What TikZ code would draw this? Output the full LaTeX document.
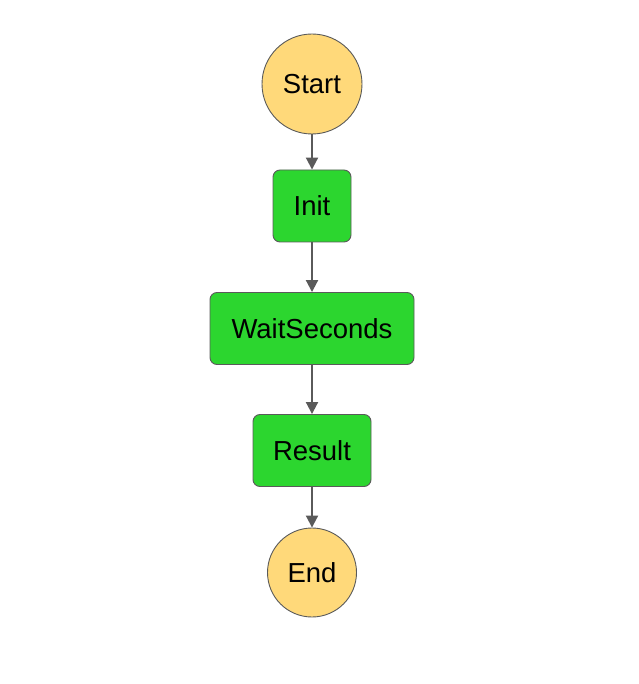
\documentclass[tikz,border=0pt]{standalone}
\usepackage{fontspec}
\setmainfont{Liberation Sans}
\usetikzlibrary{arrows.meta}
\definecolor{stateY}{HTML}{FFD97A}
\definecolor{stateG}{HTML}{2CD62F}
\definecolor{edgeC}{HTML}{5A5A5A}
\tikzset{
  term/.style={circle, draw=edgeC, line width=0.9pt, fill=stateY, inner sep=0pt, font=\fontsize{27.5}{32}\selectfont},
  task/.style={rectangle, rounded corners=7pt, draw=edgeC, line width=0.9pt, fill=stateG, inner sep=0pt, font=\fontsize{27.5}{32}\selectfont},
  flow/.style={draw=edgeC, line width=2pt, -{Triangle[length=12pt,width=12pt]}}
}
\begin{document}
\begin{tikzpicture}[x=1pt,y=-1pt]
\useasboundingbox (0,0) rectangle (638,684);
\node[term, minimum size=100pt] (start) at (312,84) {Start};
\node[task, minimum width=78pt, minimum height=72pt] (init) at (312,206) {Init};
\node[task, minimum width=204pt, minimum height=72pt] (wait) at (312,328.5) {WaitSeconds};
\node[task, minimum width=118pt, minimum height=72pt] (result) at (312,450.5) {Result};
\node[term, minimum size=89pt] (end) at (312,572.5) {End};
\draw[flow] (start) -- (init);
\draw[flow] (init) -- (wait);
\draw[flow] (wait) -- (result);
\draw[flow] (result) -- (end);
\end{tikzpicture}
\end{document}
